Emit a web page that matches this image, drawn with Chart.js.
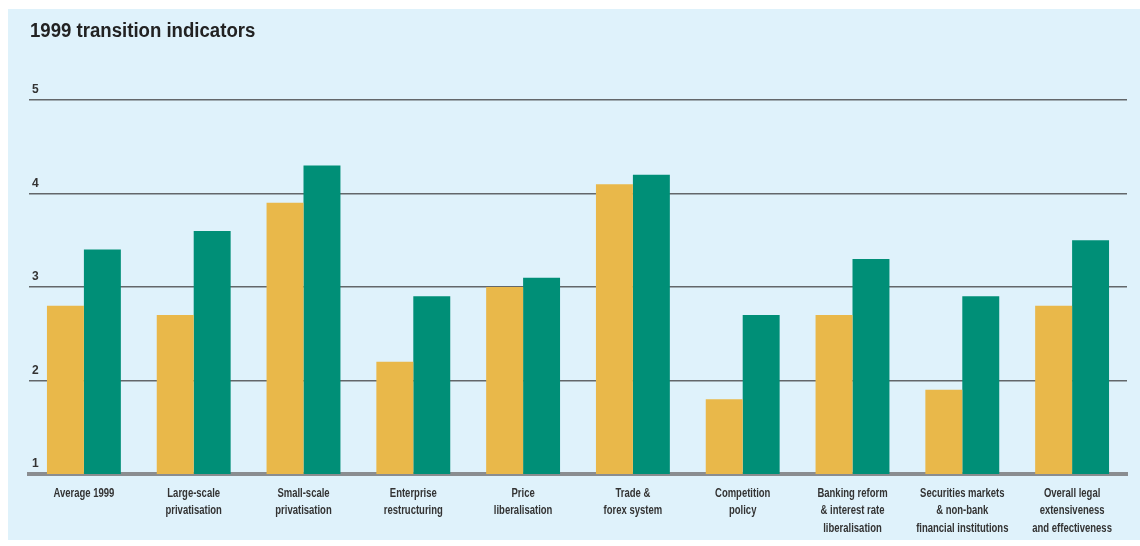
<!DOCTYPE html>
<html>
<head>
<meta charset="utf-8">
<script src="https://cdn.jsdelivr.net/npm/chart.js@4"></script>
<style>
  html, body { margin: 0; padding: 0; background: #fff; }
  #panel { position: absolute; left: 8px; top: 9px; width: 1132px; height: 531px; background: #dff2fb; }
  #wrap { position: absolute; left: 0; top: 0; width: 1140px; height: 546px; }
</style>
</head>
<body>
<div id="panel"></div>
<div id="wrap"><canvas id="canv"></canvas></div>
<script>
const titleText = '1999 transition indicators';
const categories = [
  ["Average 1999"],
  ["Large-scale", "privatisation"],
  ["Small-scale", "privatisation"],
  ["Enterprise", "restructuring"],
  ["Price", "liberalisation"],
  ["Trade &", "forex system"],
  ["Competition", "policy"],
  ["Banking reform", "& interest rate", "liberalisation"],
  ["Securities markets", "& non-bank", "financial institutions"],
  ["Overall legal", "extensiveness", "and effectiveness"]
];
const seriesA = [2.8, 2.7, 3.9, 2.2, 3.0, 4.1, 1.8, 2.7, 1.9, 2.8];
const seriesB = [3.4, 3.6, 4.3, 2.9, 3.1, 4.2, 2.7, 3.3, 2.9, 3.5];
const yTicks = [1, 2, 3, 4, 5];

const FONT = "'Liberation Sans', Arial, sans-serif";

// no condensed face is available, so squeeze the text horizontally by hand
function narrowText(c, text, x, y, sx, align) {
  c.save();
  c.translate(x, y);
  c.scale(sx, 1);
  c.textAlign = align;
  c.fillText(text, 0, 0);
  c.restore();
}

const narrowLabels = {
  id: 'narrowLabels',
  afterDraw(chart) {
    const c = chart.ctx;
    const xs = chart.scales.x;
    const area = chart.chartArea;
    c.save();
    c.fillStyle = '#222';
    c.textBaseline = 'middle';
    c.font = 'bold 20px ' + FONT;
    narrowText(c, titleText, 30, 31, 0.93, 'left');

    c.fillStyle = '#333';
    c.font = 'bold 13px ' + FONT;
    categories.forEach((lines, i) => {
      const x = xs.getPixelForTick(i);
      lines.forEach((ln, j) => {
        narrowText(c, ln, x, area.bottom + 19 + j * 17.5, 0.73, 'center');
      });
    });
    c.restore();
  }
};

const ctx = document.getElementById('canv').getContext('2d');
new Chart(ctx, {
  type: 'bar',
  data: {
    labels: categories,
    datasets: [
      { data: seriesA, backgroundColor: '#e9b84a', borderWidth: 0 },
      { data: seriesB, backgroundColor: '#008f77', borderWidth: 0 }
    ]
  },
  options: {
    responsive: true,
    maintainAspectRatio: false,
    animation: false,
    layout: { padding: { left: 23, right: 13, top: 100, bottom: 72 } },
    plugins: {
      legend: { display: false },
      tooltip: { enabled: false },
      title: { display: false }
    },
    datasets: {
      bar: { barPercentage: 1, categoryPercentage: 0.673 }
    },
    scales: {
      x: {
        grid: { display: false, drawTicks: false },
        border: { display: true, color: '#8a8d90', width: 4 },
        ticks: { display: false }
      },
      y: {
        min: 1,
        max: 5,
        afterBuildTicks: (axis) => { axis.ticks = yTicks.map(v => ({ value: v })); },
        grid: { color: '#63676a', lineWidth: 1.5, drawTicks: false },
        border: { display: false },
        ticks: {
          mirror: true,
          padding: 3,
          labelOffset: -10,
          color: '#333',
          font: { size: 12, weight: 'bold', family: FONT }
        }
      }
    }
  },
  plugins: [narrowLabels]
});
</script>
</body>
</html>
